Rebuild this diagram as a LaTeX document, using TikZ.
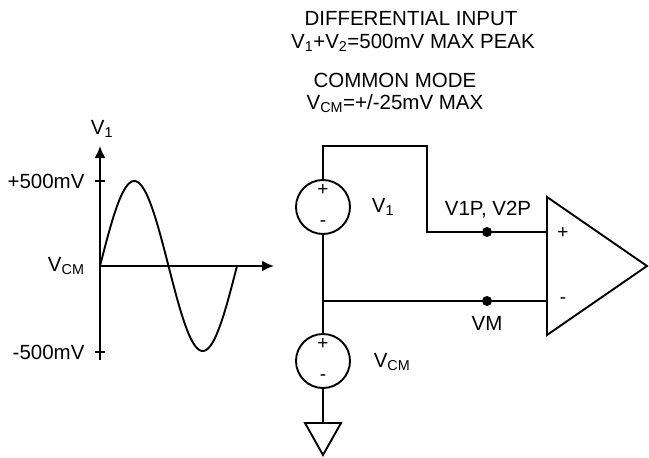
\documentclass[tikz,border=0pt]{standalone}
\usepackage{fontspec}
\setmainfont{Liberation Sans}
\usetikzlibrary{arrows.meta}
\tikzset{
    wire/.style={line width=1.9pt},
    srcbox/.style={circle, draw, line width=1.9pt, minimum size=54pt, inner sep=0pt},
    dot/.style={circle, fill, inner sep=0pt, minimum size=10pt},
    lbl/.style={font=\fontsize{20.5}{22}\selectfont},
    sgn/.style={font=\fontsize{19}{20}\selectfont, inner sep=0pt}
}
\begin{document}
\begin{tikzpicture}[x=1pt, y=-1pt]
    \useasboundingbox (0,0) rectangle (649,458);

    % Notes at the top
    \node[lbl] (diffhead) at (411,19) {DIFFERENTIAL INPUT};
    \node[lbl] (diffval) at (413,43) {V\textsubscript{1}+V\textsubscript{2}=500mV MAX PEAK};
    \node[lbl] (cmhead) at (395,80) {COMMON MODE};
    \node[lbl] (cmval) at (395,104) {V\textsubscript{CM}=+/-25mV MAX};

    % Draw axes
    \coordinate (org) at (100,266);
    \coordinate (ytop) at (100,146);
    \coordinate (ybot) at (100,360);
    \coordinate (xend) at (274,266);
    \draw[wire, -{Latex[length=12pt, width=11pt]}] (ybot) -- (ytop);
    \draw[wire, -{Latex[length=12pt, width=11pt]}] (org) -- (xend);
    \draw[wire] (95,181) -- (105,181);
    \draw[wire] (95,352) -- (105,352);
    \node[lbl] (vaxis) at (102,129) {V\textsubscript{1}};
    \node[lbl, anchor=east] (pmax) at (88,181) {+500mV};
    \node[lbl, anchor=east] (vcmaxis) at (88,266) {V\textsubscript{CM}};
    \node[lbl, anchor=east] (nmax) at (88,352) {-500mV};

    % Sine wave
    \draw[wire, smooth, samples=90, domain=0:360]
        plot ({100+\x/360*137}, {266-85*sin(\x)});

    % Sources
    \node[srcbox] (v1) at (323,207) {};
    \node[sgn] at (323,190) {+};
    \node[sgn] at (323,224) {-};
    \node[lbl] (v1lbl) at (383,207) {V\textsubscript{1}};

    \node[srcbox] (vcm) at (323,361) {};
    \node[sgn] at (323,344) {+};
    \node[sgn] at (323,378) {-};
    \node[lbl] (vcmlbl) at (392,362) {V\textsubscript{CM}};

    % Op amp
    \coordinate (inp) at (547,232);
    \coordinate (inm) at (547,301);
    \draw[wire] (547,197) -- (647,266) -- (547,335) -- cycle;
    \node[sgn] at (563,233) {+};
    \node[sgn] at (563,301) {-};

    % Wiring
    \coordinate (ptop) at (427,146);
    \coordinate (pdrop) at (427,232);
    \coordinate (junc) at (323,301);
    \draw[wire] (v1.north) |- (ptop) -- (pdrop) -- (inp);
    \draw[wire] (v1.south) -- (vcm.north);
    \draw[wire] (junc) -- (inm);
    \node[dot] (vp) at (487,232) {};
    \node[dot] (vm) at (487,301) {};
    \node[lbl] (vplbl) at (488,210) {V1P, V2P};
    \node[lbl] (vmlbl) at (487,323) {VM};

    % Ground
    \coordinate (gnd) at (323,423);
    \draw[wire] (vcm.south) -- (gnd);
    \draw[wire, line join=miter] (305,423) -- (341,423) -- (323,455) -- cycle;

\end{tikzpicture}
\end{document}
